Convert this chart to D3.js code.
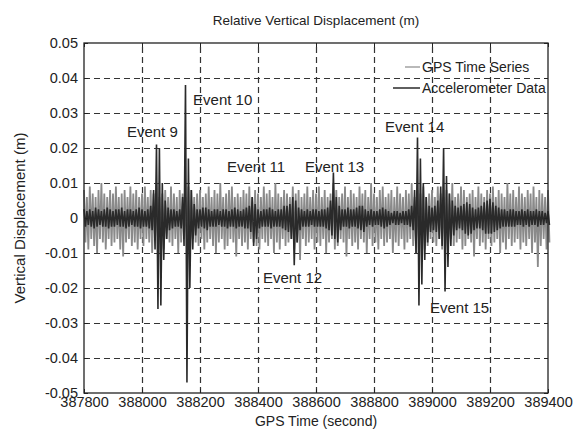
<!DOCTYPE html>
<html>
<head>
<meta charset="utf-8">
<script src="https://cdn.jsdelivr.net/npm/d3@7"></script>
<style>
    body { margin: 0; background: #fff; }
    svg text { font-family: Arial, "Liberation Sans", sans-serif; fill: #222; }
</style>
</head>
<body>
<div id="myChart"></div>
<script>
// axis ticks
const xTicks = [387800, 388000, 388200, 388400, 388600, 388800, 389000, 389200, 389400];
const yTicks = [-0.05, -0.04, -0.03, -0.02, -0.01, 0, 0.01, 0.02, 0.03, 0.04, 0.05];

// samples every 10 s from 387800, values in mm (upper and lower swing of each sample)
const startTime = 387800;
const stepSec = 10;

const gpsHigh = [
    8,6,9,7,6,8,10,7,6,8, 7,9,6,7,8,6,9,7,8,6,
    7,9,6,8,7,10,6,7,8,6, 9,7,6,8,7,6,9,8,6,7,
    8,6,7,9,6,8,7,10,6,7, 8,9,6,7,6,8,7,9,6,8,
    7,6,9,7,8,6,10,7,6,8, 7,6,9,7,8,6,7,9,6,8,
    7,9,6,8,6,7,10,8,6,7, 9,6,8,7,6,9,7,8,6,10,
    7,6,8,9,6,7,8,6,9,7, 6,8,7,10,6,8,7,9,6,7,
    8,6,9,7,6,8,7,10,6,7, 9,8,6,7,8,6,9,7,6,8,
    7,9,6,8,7,6,10,7,8,6, 9,7,6,8,7,9,6,8,7,6, 8
];
const gpsLow = [
    -7,-9,-6,-8,-10,-6,-7,-9,-6,-8, -7,-6,-9,-11,-7,-6,-8,-7,-9,-6,
    -8,-6,-7,-10,-6,-8,-7,-9,-6,-7, -8,-6,-10,-7,-6,-8,-9,-6,-7,-8,
    -6,-9,-7,-6,-8,-10,-7,-6,-9,-8, -6,-7,-11,-6,-8,-7,-9,-6,-7,-8,
    -9,-6,-7,-8,-6,-10,-7,-9,-6,-8, -7,-6,-9,-7,-12,-6,-8,-7,-6,-9,
    -7,-8,-6,-10,-7,-6,-9,-8,-6,-7, -11,-6,-8,-7,-9,-6,-7,-10,-6,-8,
    -7,-9,-6,-8,-7,-6,-10,-7,-8,-6, -9,-7,-6,-8,-10,-7,-6,-9,-8,-6,
    -7,-8,-6,-9,-7,-10,-6,-8,-7,-6, -9,-8,-6,-7,-11,-6,-8,-7,-9,-6,
    -8,-7,-6,-10,-7,-9,-6,-8,-7,-6, -9,-7,-8,-6,-10,-7,-14,-8,-6,-9, -7
];

const accHigh = [
    2.5,2,2.5,2,3,2.5,2,2.5,3,2.5, 2,2.5,2.5,3,2,2.5,2.5,2,2.5,3,
    2.5,2,2.5,3.5,8,21,20,10,5,3, 2.5,2.5,2,2.5,6,38,17,8,4,2.5,
    2.5,3,3,2.5,2,2.5,2.5,2,2.5,2.5, 2,2.5,3,2.5,2,2.5,3,3.5,6,4,
    2.5,2,2.5,2.5,3,2.5,2,2.5,2.5,3.5, 3.5,4,6,5,3,2.5,2,2.5,2,2.5,
    2.5,2,2.5,2.5,3,5,13,6,3.5,2.5, 2.5,3,2.5,2.5,3,3.5,3.5,2.5,2,2.5,
    2,2,2.5,3,2.5,2,1.5,2,2,1.5, 2,2,2.5,3.5,8,23,17,10,6,3.5,
    3,3.5,5,9,20,12,7,5,3.5,3, 3.5,4,4.5,4,3,2.5,3,3.5,4.5,5,
    5.5,4.5,3.5,3,2.5,2.5,2,2.5,2.5,2, 2,2.5,2,2.5,2,2,2.5,2,2,1.5, 2
];
const accLow = [
    -2.5,-2,-2.5,-3,-2.5,-2,-2.5,-2.5,-3,-2.5, -2.5,-2,-2.5,-2.5,-3,-2.5,-2,-2.5,-2.5,-3,
    -2.5,-2.5,-3,-3.5,-9,-26,-25,-12,-6,-3.5, -3,-2.5,-2.5,-3,-8,-47,-20,-9,-5,-3,
    -2.5,-3,-3.5,-2.5,-2.5,-2.5,-2,-2.5,-2.5,-3, -2.5,-2.5,-3,-2.5,-2.5,-3,-3,-4,-8,-6,
    -3,-2.5,-2.5,-2.5,-3,-2.5,-2.5,-2.5,-3,-3.5, -4,-6,-13.5,-7,-3.5,-2.5,-2.5,-2.5,-2,-2.5,
    -2.5,-2.5,-2.5,-3,-3.5,-5,-6,-7,-3.5,-2.5, -2.5,-3,-2.5,-2.5,-3,-3.5,-4,-2.5,-2,-2.5,
    -2,-2,-2.5,-3,-2.5,-2,-1.5,-2,-2,-1.5, -2,-2,-2.5,-3.5,-10,-25,-19,-12,-7,-4,
    -3.5,-4,-6,-8,-21,-14,-8,-5,-3.5,-3, -3.5,-4.5,-5,-4.5,-3.5,-3,-3,-3.5,-4.5,-4.5,
    -4.5,-4,-3.5,-3,-2.5,-2.5,-2.5,-2.5,-2.5,-2, -2,-2.5,-2,-2.5,-2,-2,-2.5,-2,-2,-1.5, -2
];

// event annotations (label start time, label baseline value)
const eventNames = ["Event 9", "Event 10", "Event 11", "Event 12", "Event 13", "Event 14", "Event 15"];
const eventLabelT = [387948, 388176, 388293, 388417, 388562, 388838, 388993];
const eventLabelV = [0.0231, 0.0323, 0.0131, -0.0186, 0.0131, 0.0246, -0.0271];

const seriesNames = ["GPS Time Series", "Accelerometer Data"];

let margin = { top: 43, right: 28, bottom: 49, left: 84 },
    width = 576 - margin.left - margin.right,
    height = 442 - margin.top - margin.bottom;

const svg = d3.select("#myChart")
    .append("svg")
    .attr("width", 576)
    .attr("height", 442);

const g = svg.append("g")
    .attr("transform", `translate(${margin.left},${margin.top})`);

const xScale = d3.scaleLinear().domain([387800, 389400]).range([0, width]);
const yScale = d3.scaleLinear().domain([-0.05, 0.05]).range([height, 0]);

// dashed grid
g.append("g")
    .attr("class", "grid")
    .attr("transform", `translate(0,${height})`)
    .call(d3.axisBottom(xScale).tickValues(xTicks.slice(1, -1)).tickSize(-height).tickFormat(""));
g.append("g")
    .attr("class", "grid")
    .call(d3.axisLeft(yScale).tickValues(yTicks.slice(1, -1)).tickSize(-width).tickFormat(""));
g.selectAll(".grid .domain").remove();
g.selectAll(".grid line")
    .attr("stroke", "#333")
    .attr("stroke-width", 1.2)
    .attr("stroke-dasharray", "6,4");

// zigzag through upper/lower swing of each sample
function zigzag(hi, lo) {
    let pts = [];
    hi.forEach((v, i) => {
        const t = startTime + i * stepSec;
        pts.push([t, v / 1000]);
        pts.push([t + stepSec / 2, lo[i] / 1000]);
    });
    return pts;
}

const line = d3.line()
    .x(d => xScale(d[0]))
    .y(d => yScale(d[1]));

g.append("path")
    .datum(zigzag(gpsHigh, gpsLow))
    .attr("d", line)
    .attr("fill", "none")
    .attr("stroke", "#8a8a8a")
    .attr("stroke-width", 1.8);

g.append("path")
    .datum(zigzag(accHigh, accLow))
    .attr("d", line)
    .attr("fill", "none")
    .attr("stroke", "#2a2a2a")
    .attr("stroke-width", 1.6);

// axes with inward ticks
const xAxis = g.append("g")
    .attr("transform", `translate(0,${height})`)
    .call(d3.axisBottom(xScale).tickValues(xTicks).tickSize(-4).tickPadding(4).tickFormat(d3.format("d")));
const xAxisTop = g.append("g")
    .call(d3.axisTop(xScale).tickValues(xTicks).tickSize(-4).tickFormat(""));
const yAxis = g.append("g")
    .call(d3.axisLeft(yScale).tickValues(yTicks).tickSize(-4).tickPadding(6)
        .tickFormat(d => d === 0 ? "0" : d.toFixed(2)));
const yAxisRight = g.append("g")
    .attr("transform", `translate(${width},0)`)
    .call(d3.axisRight(yScale).tickValues(yTicks).tickSize(-4).tickFormat(""));

[xAxis, xAxisTop, yAxis, yAxisRight].forEach(a => {
    a.select(".domain").remove();
    a.selectAll("line").attr("stroke", "#222");
    a.selectAll("text").attr("fill", "#222");
});
xAxis.selectAll("text").style("font-size", "14.5px");
yAxis.selectAll("text").style("font-size", "14.5px");

// frame
g.append("rect")
    .attr("width", width)
    .attr("height", height)
    .attr("fill", "none")
    .attr("stroke", "#222")
    .attr("stroke-width", 1.3);

// event labels
g.selectAll(".event")
    .data(eventNames)
    .enter()
    .append("text")
    .attr("class", "event")
    .attr("x", (d, i) => xScale(eventLabelT[i]))
    .attr("y", (d, i) => yScale(eventLabelV[i]))
    .style("font-size", "15px")
    .text(d => d);

// legend
const legend = g.append("g")
    .attr("transform", `translate(${width - 155}, 24)`);

legend.append("line")
    .attr("x1", 12).attr("x2", 27).attr("y1", 0).attr("y2", 0)
    .attr("stroke", "#8a8a8a").attr("stroke-width", 1.2);
legend.append("text")
    .attr("x", 29).attr("y", 5)
    .style("font-size", "14px")
    .text(seriesNames[0]);

legend.append("line")
    .attr("x1", 0).attr("x2", 27).attr("y1", 21).attr("y2", 21)
    .attr("stroke", "#2a2a2a").attr("stroke-width", 1.5);
legend.append("text")
    .attr("x", 29).attr("y", 26)
    .style("font-size", "14px")
    .text(seriesNames[1]);

// title and axis labels
svg.append("text")
    .attr("x", margin.left + width / 2)
    .attr("y", 25)
    .style("text-anchor", "middle")
    .style("font-size", "13.5px")
    .text("Relative Vertical Displacement (m)");

svg.append("text")
    .attr("x", margin.left + width / 2)
    .attr("y", 426)
    .style("text-anchor", "middle")
    .style("font-size", "14px")
    .text("GPS Time (second)");

svg.append("text")
    .attr("transform", `translate(25,${margin.top + height / 2}) rotate(-90)`)
    .style("text-anchor", "middle")
    .style("font-size", "15px")
    .text("Vertical Displacement (m)");
</script>
</body>
</html>
